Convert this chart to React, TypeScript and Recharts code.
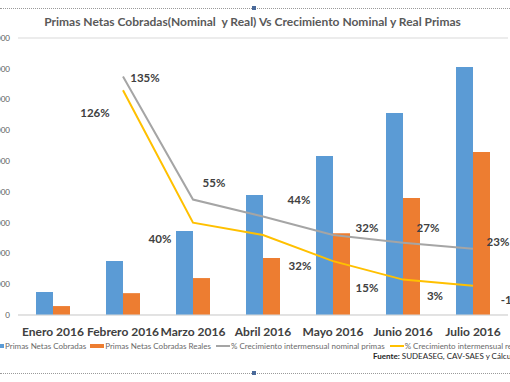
import { ComposedChart, Bar, Line, XAxis, YAxis, CartesianGrid, Legend, LabelList } from 'recharts';

const months = ['Enero 2016', 'Febrero 2016', 'Marzo 2016', 'Abril 2016', 'Mayo 2016', 'Junio 2016', 'Julio 2016'];
const nominal = [37400, 87700, 136500, 195000, 258500, 328000, 403000];
const real = [14500, 35500, 60000, 92500, 133000, 190000, 265000];
const growthNominal = [null, 135, 55, 44, 32, 27, 23];
const growthReal = [null, 126, 40, 32, 15, 3, -1];
const yTicks = [0, 50000, 100000, 150000, 200000, 250000, 300000, 350000, 400000, 450000];

const data = months.map((m, i) => ({
  name: m,
  nominal: nominal[i],
  real: real[i],
  gNom: growthNominal[i],
  gReal: growthReal[i],
}));

// label nudges, Excel-style manual placement
const nomOffsets = [[0, 0], [22, 1], [21, -17], [36, -17], [34, -7], [25, -15], [25, -7]];
const realOffsets = [[0, 0], [-28, 22], [-33, 16], [37, 31], [34, 26], [32, 16], [38, 14]];

const font = 'Lato, "Open Sans", sans-serif';

const pctLabel = (offsets: number[][]) => (props: any) => {
  const { x, y, value, index } = props;
  if (value === null || value === undefined) return null;
  const [dx, dy] = offsets[index] || [0, 0];
  return (
    <text x={x + dx} y={y + dy} textAnchor="middle" dominantBaseline="central"
      fontSize={11.5} fontWeight={700} fill="#404040" fontFamily={font}>
      {value}%
    </text>
  );
};

const fmt = (v: number) => v.toLocaleString('de-DE');

function LegendBox() {
  const item = (color: string, h: number, label: string, ml: number) => (
    <span style={{ display: 'inline-flex', alignItems: 'center', marginLeft: ml }}>
      <span style={{ display: 'inline-block', width: 14, height: h, background: color, marginRight: 1 }} />
      <span>{label}</span>
    </span>
  );
  return (
    <div style={{ fontFamily: font, fontSize: 8, color: '#6a6a6a', whiteSpace: 'nowrap', display: 'flex' }}>
      {item('#5B9BD5', 4, 'Primas Netas Cobradas', 0)}
      {item('#ED7D31', 4, 'Primas Netas Cobradas Reales', 4)}
      {item('#A5A5A5', 1.5, '% Crecimiento intermensual nominal primas', 5)}
      {item('#FFC000', 1.5, '% Crecimiento intermensual real primas', 5)}
    </div>
  );
}

export default function App() {
  return (
    <div style={{ position: 'absolute', left: 0, top: 0, width: 510, height: 382, overflow: 'hidden', background: '#fff' }}>
      <div style={{ position: 'absolute', left: 0, right: 0, top: 8, borderTop: '1px dotted #9a9a9a' }} />
      <div style={{ position: 'absolute', left: 0, right: 0, top: 373, borderTop: '1px dotted #9a9a9a' }} />
      <div style={{ position: 'absolute', left: 252, top: 6, width: 4, height: 4, background: '#4a6a9a' }} />
      <div style={{ position: 'absolute', left: 252, top: 371, width: 4, height: 4, background: '#4a6a9a' }} />
      <div style={{ position: 'absolute', left: 0, width: 505, top: 14, textAlign: 'center', fontFamily: font, fontWeight: 700, fontSize: 12, color: '#595959', whiteSpace: 'pre' }}>
        {'Primas Netas Cobradas(Nominal  y Real) Vs Crecimiento Nominal y Real Primas'}
      </div>
      <div style={{ position: 'absolute', left: -40, top: 0 }}>
        <ComposedChart width={600} height={382} data={data} barGap={0} barSize={17}
          margin={{ top: 38, right: 52, left: 0, bottom: 37 }}>
          <CartesianGrid vertical={false} stroke="#D9D9D9" />
          <XAxis dataKey="name" tickLine={false} axisLine={{ stroke: '#D9D9D9' }} height={30}
            tick={{ fontSize: 12, fontWeight: 700, fill: '#404040', fontFamily: font }} tickMargin={6} interval={0} />
          <YAxis yAxisId="val" width={58} domain={[0, 450000]} ticks={yTicks} tickFormatter={fmt}
            tickLine={false} axisLine={false} tick={{ fontSize: 8, fill: '#595959', fontFamily: font }} />
          <YAxis yAxisId="pct" orientation="right" hide domain={[-20, 160]} />
          <Legend layout="horizontal" verticalAlign="middle" align="center" content={() => <LegendBox />}
            wrapperStyle={{ position: 'absolute', top: 341, left: 30, width: 600 }} />
          <Bar yAxisId="val" dataKey="nominal" fill="#5B9BD5" isAnimationActive={false} />
          <Bar yAxisId="val" dataKey="real" fill="#ED7D31" isAnimationActive={false} />
          <Line yAxisId="pct" dataKey="gNom" stroke="#A5A5A5" strokeWidth={2} dot={false} isAnimationActive={false}>
            <LabelList dataKey="gNom" content={pctLabel(nomOffsets)} />
          </Line>
          <Line yAxisId="pct" dataKey="gReal" stroke="#FFC000" strokeWidth={2} dot={false} isAnimationActive={false}>
            <LabelList dataKey="gReal" content={pctLabel(realOffsets)} />
          </Line>
        </ComposedChart>
      </div>
      <div style={{ position: 'absolute', left: 373, top: 351, fontFamily: font, fontSize: 8, color: '#262626', whiteSpace: 'nowrap' }}>
        <b>Fuente:</b> SUDEASEG, CAV-SAES y Cálculos propios
      </div>
    </div>
  );
}
